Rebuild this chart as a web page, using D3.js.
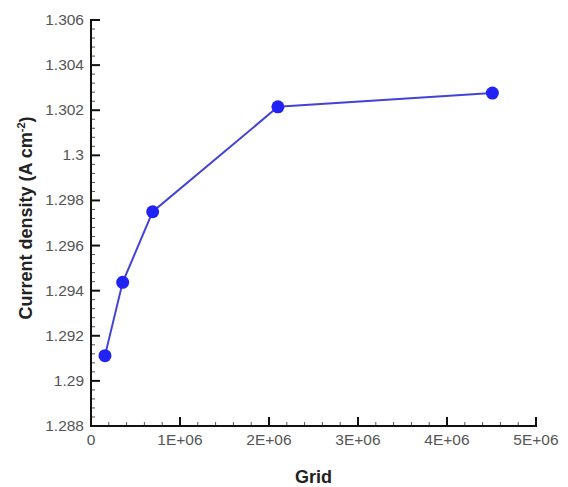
<!DOCTYPE html>
<html>
<head>
<meta charset="utf-8">
<script src="https://cdn.jsdelivr.net/npm/d3@7"></script>
<style>
  body { margin: 0; background: #fff; }
  svg { display: block; font-family: "Liberation Sans", Arial, sans-serif; }
</style>
</head>
<body>
<svg width="568" height="487"></svg>
<script>
// data
var grid = [157000, 356000, 693000, 2100000, 4510000];
var density = [1.29112, 1.29437, 1.2975, 1.30215, 1.30276];
var xTicks = [0, 1e6, 2e6, 3e6, 4e6, 5e6];
var xTickLabels = ["0", "1E+06", "2E+06", "3E+06", "4E+06", "5E+06"];
var yTicks = [1.288, 1.29, 1.292, 1.294, 1.296, 1.298, 1.3, 1.302, 1.304, 1.306];
var yTickLabels = ["1.288", "1.29", "1.292", "1.294", "1.296", "1.298", "1.3", "1.302", "1.304", "1.306"];

var svg = d3.select('svg');
// plot box edges (px)
var pLeft = 91, pRight = 536, pTop = 20, pBottom = 426;

var x = d3.scaleLinear().domain([0, 5e6]).range([pLeft, pRight]);
var y = d3.scaleLinear().domain([1.288, 1.306]).range([pBottom, pTop]);

// minor ticks, 4 between each major
var xMinor = d3.range(1, 25).filter(function(i) { return i % 5 !== 0; })
  .map(function(i) { return i * 2e5; });
var yMinor = d3.range(1, 45).filter(function(i) { return i % 5 !== 0; })
  .map(function(i) { return 1.288 + i * 0.0004; });

var xAxis = svg.append('g').attr('transform', 'translate(0,' + pBottom + ')');
xAxis.selectAll('.minor').data(xMinor).enter().append('line')
  .attr('x1', function(d) { return x(d); }).attr('x2', function(d) { return x(d); })
  .attr('y1', 0).attr('y2', -4).attr('stroke', '#555').attr('stroke-width', 1);
xAxis.selectAll('.major').data(xTicks).enter().append('line')
  .attr('x1', function(d) { return x(d); }).attr('x2', function(d) { return x(d); })
  .attr('y1', 0).attr('y2', -9).attr('stroke', '#111').attr('stroke-width', 2);
xAxis.append('line').attr('x1', pLeft - 1).attr('x2', pRight + 1).attr('y1', 0).attr('y2', 0)
  .attr('stroke', '#111').attr('stroke-width', 2);
xAxis.selectAll('text').data(xTicks).enter().append('text')
  .attr('x', function(d) { return x(d); }).attr('y', 19)
  .attr('text-anchor', 'middle').attr('font-size', 15.5).attr('fill', '#555')
  .text(function(d, i) { return xTickLabels[i]; });

var yAxis = svg.append('g').attr('transform', 'translate(' + pLeft + ',0)');
yAxis.selectAll('.minor').data(yMinor).enter().append('line')
  .attr('y1', function(d) { return y(d); }).attr('y2', function(d) { return y(d); })
  .attr('x1', 0).attr('x2', 4).attr('stroke', '#555').attr('stroke-width', 1);
yAxis.selectAll('.major').data(yTicks).enter().append('line')
  .attr('y1', function(d) { return y(d); }).attr('y2', function(d) { return y(d); })
  .attr('x1', 0).attr('x2', 9).attr('stroke', '#111').attr('stroke-width', 2);
yAxis.append('line').attr('y1', pTop - 1).attr('y2', pBottom + 1).attr('x1', 0).attr('x2', 0)
  .attr('stroke', '#111').attr('stroke-width', 2);
yAxis.selectAll('text').data(yTicks).enter().append('text')
  .attr('x', -7).attr('y', function(d) { return y(d) + 5; })
  .attr('text-anchor', 'end').attr('font-size', 15.5).attr('fill', '#555')
  .text(function(d, i) { return yTickLabels[i]; });

// axis titles
svg.append('text').attr('x', (pLeft + pRight) / 2).attr('y', 483)
  .attr('text-anchor', 'middle').attr('font-size', 18).attr('font-weight', 'bold')
  .attr('fill', '#222').text('Grid');

var yt = svg.append('text')
  .attr('transform', 'translate(32,218) rotate(-90)')
  .attr('text-anchor', 'middle').attr('font-size', 18).attr('font-weight', 'bold')
  .attr('fill', '#222');
yt.append('tspan').text('Current density (A cm');
yt.append('tspan').attr('dy', -7).attr('font-size', 11).text('-2');
yt.append('tspan').attr('dy', 7).text(')');

// series
var pts = grid.map(function(g, i) { return [g, density[i]]; });
var line = d3.line().x(function(d) { return x(d[0]); }).y(function(d) { return y(d[1]); });
svg.append('path').datum(pts).attr('d', line)
  .attr('fill', 'none').attr('stroke', '#4343d6').attr('stroke-width', 2);
svg.selectAll('.pt').data(pts).enter().append('circle')
  .attr('cx', function(d) { return x(d[0]); }).attr('cy', function(d) { return y(d[1]); })
  .attr('r', 6.5).attr('fill', '#2222f5');
</script>
</body>
</html>
